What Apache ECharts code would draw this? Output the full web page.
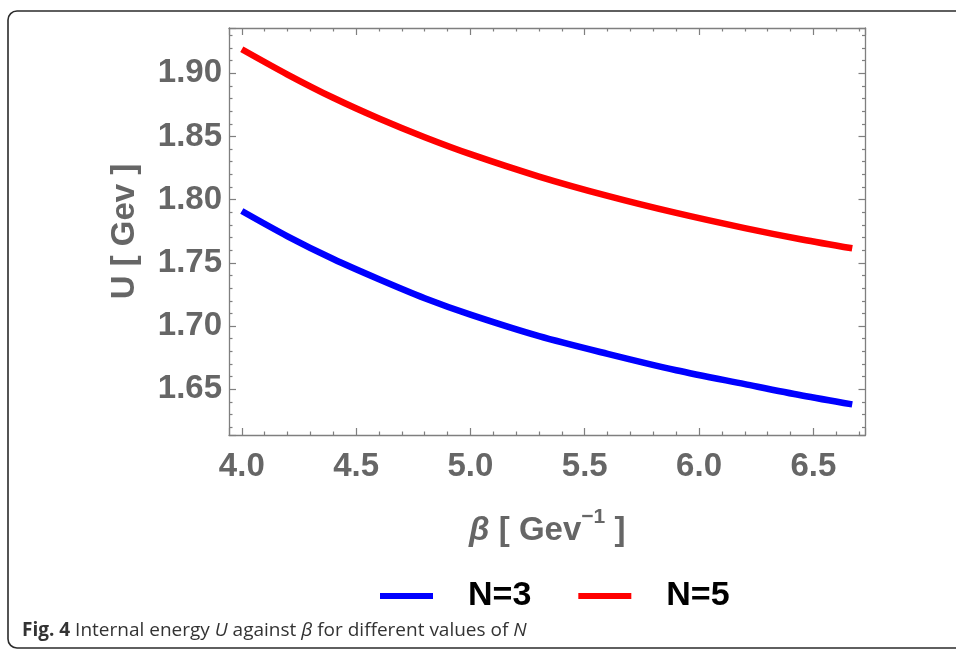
<!DOCTYPE html>
<html>
<head>
<meta charset="utf-8">
<script src="https://cdn.jsdelivr.net/npm/echarts@6/dist/echarts.min.js"></script>
<style>
html,body{margin:0;padding:0;background:#fff;}
#chart{width:956px;height:652px;}
</style>
</head>
<body>
<div id="chart"></div>
<script>
// ---- data ----
const betaValues = [4.0, 4.2, 4.4, 4.6, 4.8, 5.0, 5.3, 5.6, 5.9, 6.2, 6.45, 6.67];
const uN3 = [1.791, 1.771, 1.753, 1.737, 1.722, 1.709, 1.692, 1.678, 1.665, 1.654, 1.645, 1.638];
const uN5 = [1.919, 1.899, 1.8806, 1.8642, 1.8494, 1.836, 1.8183, 1.803, 1.7895, 1.7775, 1.7685, 1.7615];
const seriesNames = ['N=3', 'N=5'];
const xRange = [3.944, 6.728];
const yRange = [1.6138, 1.9358];

const toPairs = (xs, ys) => xs.map((x, i) => [x, ys[i]]);

const frameColor = '#7f7f7f';
const labelColor = '#666666';
const labelFont = 'Liberation Sans';

function frameAxis(extra) {
  return Object.assign({
    type: 'value',
    axisLine: { show: true, onZero: false, lineStyle: { color: frameColor, width: 1.3 } },
    axisTick: { show: true, inside: true, length: 7, lineStyle: { color: frameColor, width: 1.2 } },
    minorTick: { show: true, splitNumber: 5, length: 3.5, lineStyle: { color: frameColor, width: 1.2 } },
    splitLine: { show: false },
    minorSplitLine: { show: false }
  }, extra);
}

const chart = echarts.init(document.getElementById('chart'), null, { renderer: 'canvas' });
chart.setOption({
  animation: false,
  backgroundColor: '#ffffff',
  grid: { left: 229, right: 90.5, top: 28, bottom: 217, containLabel: false },
  xAxis: [
    frameAxis({
      position: 'bottom', min: xRange[0], max: xRange[1],
      axisLabel: {
        show: true, showMinLabel: false, showMaxLabel: false, margin: 15,
        formatter: v => v.toFixed(1),
        color: labelColor, fontSize: 33, fontWeight: 'bold', fontFamily: labelFont
      },
      name: '{g|β} [ Gev{s|−1} ]',
      nameLocation: 'middle', nameGap: 72,
      nameTextStyle: {
        color: labelColor, fontSize: 33, fontWeight: 'bold', fontFamily: labelFont,
        rich: {
          g: { fontSize: 33, fontStyle: 'italic', fontWeight: 'bold', color: labelColor, fontFamily: labelFont },
          s: { fontSize: 21, fontWeight: 'bold', color: labelColor, fontFamily: labelFont, verticalAlign: 'top', padding: [0, 0, 26, 0] }
        }
      }
    }),
    frameAxis({
      position: 'top', min: xRange[0], max: xRange[1],
      axisLabel: { show: false }
    })
  ],
  yAxis: [
    frameAxis({
      position: 'left', min: yRange[0], max: yRange[1],
      axisLabel: {
        show: true, showMinLabel: false, showMaxLabel: false, margin: 7,
        formatter: v => v.toFixed(2),
        color: labelColor, fontSize: 33, fontWeight: 'bold', fontFamily: labelFont
      },
      name: 'U [ Gev ]',
      nameLocation: 'middle', nameGap: 88, nameRotate: 90,
      nameTextStyle: { color: labelColor, fontSize: 33, fontWeight: 'bold', fontFamily: labelFont }
    }),
    frameAxis({
      position: 'right', min: yRange[0], max: yRange[1],
      axisLabel: { show: false }
    })
  ],
  legend: {
    left: 380, top: 579, padding: 0,
    itemWidth: 53, itemHeight: 6, itemGap: 47,
    icon: 'rect',
    data: seriesNames,
    textStyle: { color: '#000', fontSize: 34, fontWeight: 'bold', fontFamily: labelFont, padding: [0, 0, 0, 30] }
  },
  graphic: [
    {
      type: 'rect', silent: true, z: -1,
      shape: { x: 8, y: 11, width: 1000, height: 637, r: 9 },
      style: { fill: 'none', stroke: '#2b2b2b', lineWidth: 1.6 }
    },
    {
      type: 'text', left: 22, top: 621, silent: true,
      style: {
        text: '{b|Fig. 4} Internal energy {i|U} against {i|β} for different values of {i|N}',
        fill: '#333', fontSize: 19, fontFamily: 'Open Sans',
        rich: {
          b: { fontWeight: 'bold', fontSize: 19, fontFamily: 'Open Sans', fill: '#333' },
          i: { fontStyle: 'italic', fontSize: 19, fontFamily: 'Open Sans', fill: '#333' }
        }
      }
    }
  ],
  series: [
    {
      name: seriesNames[0], type: 'line', xAxisIndex: 0, yAxisIndex: 0,
      data: toPairs(betaValues, uN3), smooth: 0.3, showSymbol: false,
      lineStyle: { color: '#0000ff', width: 6.5, cap: 'butt' },
      itemStyle: { color: '#0000ff' }
    },
    {
      name: seriesNames[1], type: 'line', xAxisIndex: 0, yAxisIndex: 0,
      data: toPairs(betaValues, uN5), smooth: 0.3, showSymbol: false,
      lineStyle: { color: '#ff0000', width: 6.5, cap: 'butt' },
      itemStyle: { color: '#ff0000' }
    }
  ]
});
</script>
</body>
</html>
